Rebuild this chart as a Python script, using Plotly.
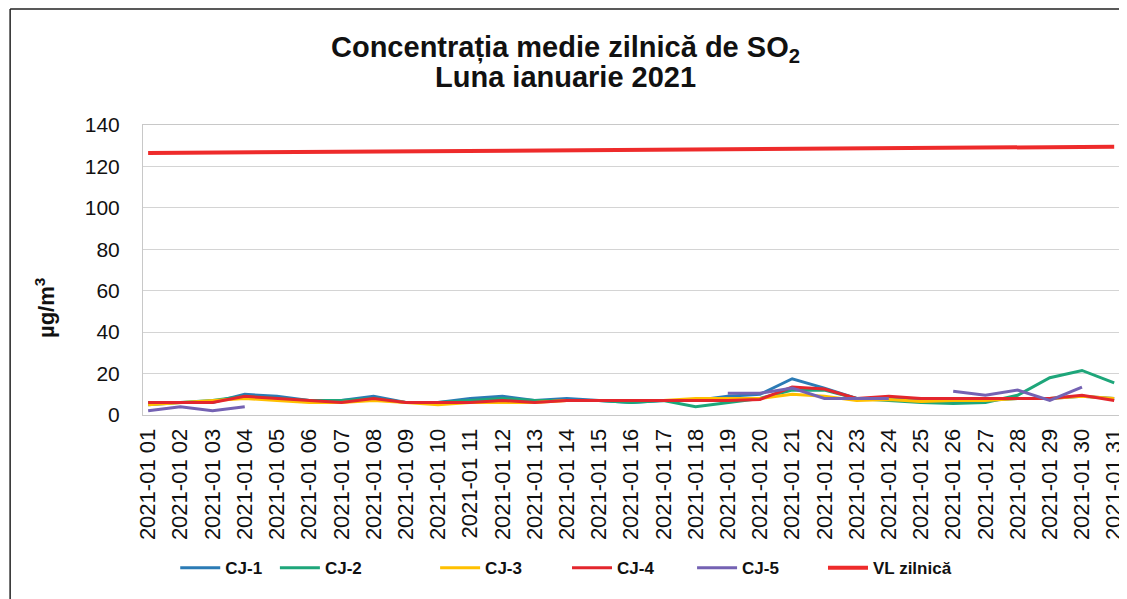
import plotly.graph_objects as go

# days of January 2021 (tick labels as printed on the chart)
days = ["2021-01 %02d" % d for d in range(1, 32)]

cj1 = [5, 6, 6, 10, 9, 7, 7, 9, 6, 6, 8, 9, 7, 8, 7, 6, 7, 7, 9, 10,
       17.5, 13, 8, 8, 7, 7, 7, 8, 8, 9, 8]
cj2 = [6, 6, 7, 9, 8, 7, 7, 8, 6, 6, 7, 8, 7, 7, 7, 6, 7, 4, 6, 8,
       12, 12, 8, 7, 6, 5.5, 6, 9.5, 18, 21.5, 15.5]
cj3 = [5, 6, 7, 8, 7, 6, 6, 7, 6, 5, 6, 6, 6, 7, 7, 7, 7, 8, 8, 8,
       10, 9, 7, 7.5, 6.5, 7, 7, 8, 8, 9, 8]
cj4 = [6, 6, 6, 9, 8, 7, 6, 8, 6, 6, 6, 7, 6, 7, 7, 7, 7, 7, 7, 7.5,
       13.5, 12.5, 8, 9, 8, 8, 8, 8, 8, 9.5, 7]
cj5 = [2, 4, 2, 4, None, None, None, None, None, None, None, None, None,
       None, None, None, None, None, 10.5, 10.5, 13, 8, 8, 8, None,
       11.5, 9.5, 12, 7, 13.5, None]
vl = [126.5, 126.6, 126.7, 126.8, 126.9, 127, 127.1, 127.2, 127.3, 127.4,
      127.5, 127.6, 127.7, 127.8, 127.9, 128, 128.1, 128.2, 128.3, 128.4,
      128.5, 128.6, 128.7, 128.8, 128.9, 129, 129.1, 129.2, 129.3, 129.4, 129.5]

series = [
    ("CJ-1", cj1, "#2b7bb5", 3),
    ("CJ-2", cj2, "#1ea67a", 3),
    ("CJ-3", cj3, "#ffc000", 3),
    ("CJ-4", cj4, "#e3262d", 3),
    ("CJ-5", cj5, "#7462b3", 3),
    ("VL zilnică", vl, "#ee2b2b", 4),
]
# where each legend entry starts (fraction of plot width)
legend_x = [0.033, 0.135, 0.299, 0.434, 0.562, 0.696]

font = "Liberation Sans, Arial, sans-serif"
ink = "#111111"

fig = go.Figure()
legends = {}
for i, (name, vals, color, w) in enumerate(series):
    key = "legend" if i == 0 else "legend%d" % (i + 1)
    fig.add_trace(go.Scatter(
        x=days, y=vals, name="<b>" + name + "</b>", mode="lines",
        line=dict(color=color, width=w),
        connectgaps=False, legend=key, showlegend=True,
    ))
    legends[key] = dict(
        orientation="h", x=legend_x[i], xanchor="left",
        y=-0.528, yanchor="middle",
        font=dict(size=17, family=font, color=ink),
        itemwidth=40, bgcolor="rgba(0,0,0,0)",
    )

fig.update_layout(
    width=1127, height=599,
    showlegend=True,
    margin=dict(l=135, r=15, t=117, b=192, autoexpand=False),
    paper_bgcolor="white", plot_bgcolor="white",
    font=dict(family=font, color=ink),
    xaxis=dict(
        type="category", tickangle=-90, range=[-0.16, 30.18],
        tickfont=dict(size=22, family=font, color=ink),
        showgrid=False, showline=True, linecolor="#c8c8c8", mirror=True,
        ticks="", automargin=False, ticklabelstandoff=4,
    ),
    yaxis=dict(
        range=[0, 140], dtick=20,
        tickfont=dict(size=21, family=font, color=ink),
        showgrid=True, gridcolor="#d4d4d4", gridwidth=1,
        showline=True, linecolor="#c8c8c8", mirror=True,
        zeroline=False, ticks="", automargin=False, ticklabelstandoff=18,
    ),
    **legends,
)

# y axis title
fig.add_annotation(text="<b>µg/m<sup>3</sup></b>", textangle=-90,
                   xref="paper", yref="paper", x=-0.1003, y=0.369,
                   xanchor="center", yanchor="middle", showarrow=False,
                   font=dict(size=22, family=font, color=ink))

# two-line chart title
fig.add_annotation(text="<b>Concentrația medie zilnică de SO<sub>2</sub></b>",
                   xref="paper", yref="paper", x=0.432, y=1.262,
                   xanchor="center", yanchor="middle", showarrow=False,
                   font=dict(size=29, family=font, color=ink))
fig.add_annotation(text="<b>Luna ianuarie 2021</b>",
                   xref="paper", yref="paper", x=0.432, y=1.166,
                   xanchor="center", yanchor="middle", showarrow=False,
                   font=dict(size=29, family=font, color=ink))

# outer chart frame
fig.add_shape(type="line", xref="paper", yref="paper",
              x0=-0.136, x1=-0.136, y0=-0.7, y1=1.4,
              line=dict(color="#222222", width=1.5))
fig.add_shape(type="line", xref="paper", yref="paper",
              x0=-0.136, x1=1.02, y0=1.4, y1=1.4,
              line=dict(color="#222222", width=1.5))

fig.write_html("out.html")
